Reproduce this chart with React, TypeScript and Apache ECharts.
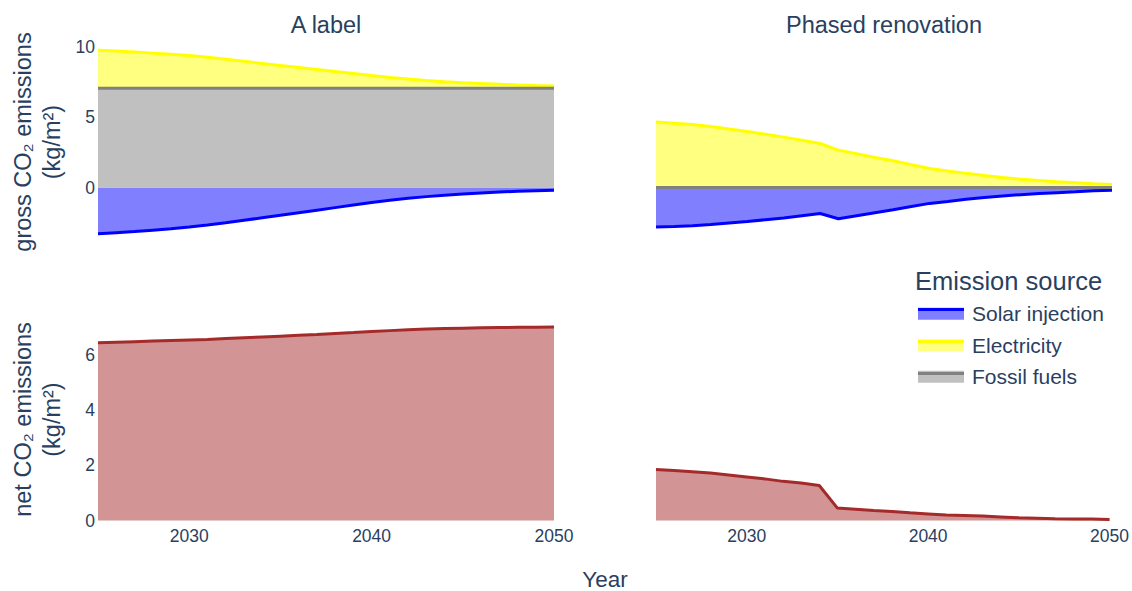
import React, { useEffect, useRef } from "react";
import * as echarts from "echarts";

// ---- data (kg/m²) ----
const years = [
  "2025", "2026", "2027", "2028", "2029", "2030", "2031", "2032", "2033", "2034", "2035", "2036", "2037",
  "2038", "2039", "2040", "2041", "2042", "2043", "2044", "2045", "2046", "2047", "2048", "2049", "2050",
];

// Panel "A label"
const solarA = [
  -3.28, -3.2, -3.12, -3.02, -2.92, -2.8, -2.66, -2.5, -2.32, -2.14, -1.96, -1.78, -1.6,
  -1.42, -1.24, -1.06, -0.9, -0.76, -0.64, -0.54, -0.46, -0.38, -0.32, -0.26, -0.22, -0.18,
];
const fossilA = [
  7.05, 7.05, 7.05, 7.05, 7.05, 7.05, 7.05, 7.05, 7.05, 7.05, 7.05, 7.05, 7.05,
  7.05, 7.05, 7.05, 7.05, 7.05, 7.05, 7.05, 7.05, 7.05, 7.05, 7.05, 7.05, 7.05,
];
const elecA = [
  2.7, 2.64, 2.57, 2.49, 2.41, 2.33, 2.2, 2.06, 1.91, 1.76, 1.61, 1.47, 1.33,
  1.19, 1.05, 0.9, 0.76, 0.65, 0.55, 0.46, 0.39, 0.33, 0.28, 0.23, 0.19, 0.16,
];
const netA = [
  6.45, 6.47, 6.49, 6.51, 6.53, 6.55, 6.57, 6.6, 6.63, 6.66, 6.69, 6.72, 6.75,
  6.79, 6.82, 6.86, 6.89, 6.92, 6.95, 6.97, 6.98, 6.99, 7.0, 7.01, 7.01, 7.02,
];

// Panel "Phased renovation"
const solarB = [
  -2.8, -2.76, -2.7, -2.62, -2.51, -2.4, -2.28, -2.16, -2.0, -1.84, -2.21, -1.99, -1.78,
  -1.57, -1.34, -1.12, -0.98, -0.83, -0.7, -0.59, -0.5, -0.42, -0.36, -0.3, -0.23, -0.18,
];
const fossilB = [
  0, 0, 0, 0, 0, 0, 0, 0, 0, 0, 0, 0, 0,
  0, 0, 0, 0, 0, 0, 0, 0, 0, 0, 0, 0, 0,
];
const elecB = [
  4.65, 4.57, 4.47, 4.34, 4.16, 3.98, 3.79, 3.58, 3.36, 3.13, 2.66, 2.4, 2.14,
  1.9, 1.62, 1.36, 1.18, 1.01, 0.86, 0.72, 0.6, 0.5, 0.42, 0.35, 0.28, 0.22,
];
const netB = [
  1.85, 1.81, 1.77, 1.72, 1.65, 1.58, 1.51, 1.42, 1.36, 1.27, 0.45, 0.41, 0.36,
  0.33, 0.28, 0.24, 0.2, 0.18, 0.16, 0.13, 0.1, 0.08, 0.06, 0.05, 0.05, 0.04,
];

const panelTitles = ["A label", "Phased renovation"];
const legendTitle = "Emission source";
const legendNames = ["Solar injection", "Electricity", "Fossil fuels"];
const xTickLabels = ["2030", "2040", "2050"];
const grossTicks = [0, 5, 10];
const netTicks = [0, 2, 4, 6];

const FONT = '"Liberation Sans", Arial, Helvetica, sans-serif';
const TXT = "#2a3f5f";

const COLORS = {
  solar: { line: "#0000ff", fill: "#8080ff" },
  elec: { line: "#ffff00", fill: "#ffff80" },
  fossil: { line: "#808080", fill: "#c0c0c0" },
  net: { line: "#a52a2a", fill: "#d29494" },
};

export default function App() {
  const ref = useRef<HTMLDivElement>(null);

  useEffect(() => {
    if (!ref.current) return;
    const chart = echarts.init(ref.current, null, { renderer: "svg" });

    const gridL = 98;
    const gridR = 656;
    const gw = 456;
    const topT = 41;
    const botT = 318.5;
    const gh = 202;

    const grids = [
      { left: gridL, top: topT, width: gw, height: gh },
      { left: gridR, top: topT, width: gw, height: gh },
      { left: gridL, top: botT, width: gw, height: gh },
      { left: gridR, top: botT, width: gw, height: gh },
    ];

    const xAxes = grids.map((_, i) => ({
      type: "category",
      gridIndex: i,
      data: years,
      boundaryGap: false,
      axisLine: { show: false },
      axisTick: { show: false },
      splitLine: { show: false },
      axisLabel: {
        show: i >= 2,
        interval: (_idx: number, val: string) => xTickLabels.includes(val),
        fontSize: 17.5,
        color: TXT,
        fontFamily: FONT,
        margin: 6,
      },
    }));

    const yName = (t: string) => ({
      name: t,
      nameLocation: "middle",
      nameRotate: 90,
      nameGap: 32,
      nameTextStyle: { fontSize: 23.5, color: TXT, fontFamily: FONT, lineHeight: 29 },
    });

    const yBase = (i: number, min: number, max: number, ticks: number[], showLabels: boolean) => ({
      type: "value",
      gridIndex: i,
      min,
      max,
      axisLine: { show: false },
      axisTick: { show: false },
      splitLine: { show: false },
      axisLabel: {
        show: showLabels,
        customValues: ticks,
        formatter: (v: number) => String(v),
        fontSize: 17.5,
        color: TXT,
        fontFamily: FONT,
        margin: 3,
      },
    });

    const yAxes = [
      { ...yBase(0, -3.93, 10.4, grossTicks, true), ...yName("gross CO₂ emissions\n(kg/m²)") },
      yBase(1, -3.93, 10.4, grossTicks, false),
      { ...yBase(2, 0, 7.33, netTicks, true), ...yName("net CO₂ emissions\n(kg/m²)") },
      yBase(3, 0, 7.33, netTicks, false),
    ];

    const area = (
      name: string,
      vals: number[],
      gi: number,
      c: { line: string; fill: string },
      stack?: string,
      z = 2
    ) => {
      const s: any = {
        type: "line",
        name,
        xAxisIndex: gi,
        yAxisIndex: gi,
        data: vals,
        showSymbol: false,
        lineStyle: { color: c.line, width: 3 },
        itemStyle: { color: c.line },
        areaStyle: { color: c.fill, opacity: 1 },
        emphasis: { disabled: true },
        z,
      };
      if (stack) s.stack = stack;
      return s;
    };

    const series = [
      area("Solar injection", solarA, 0, COLORS.solar, undefined, 2),
      area("Fossil fuels", fossilA, 0, COLORS.fossil, "posA", 3),
      area("Electricity", elecA, 0, COLORS.elec, "posA", 2),
      area("Solar injection", solarB, 1, COLORS.solar, undefined, 2),
      area("Fossil fuels", fossilB, 1, COLORS.fossil, "posB", 3),
      area("Electricity", elecB, 1, COLORS.elec, "posB", 2),
      area("Net emissions", netA, 2, COLORS.net),
      area("Net emissions", netB, 3, COLORS.net),
    ];

    const legendLeft = 918;
    const iconW = 46;
    const iconH = 12;
    const step = 32;
    const itemH = 21.5;
    const firstCenter = 314;
    const legendTop = firstCenter - itemH / 2;
    const legendLineColors = [COLORS.solar.line, COLORS.elec.line, COLORS.fossil.line];

    const graphic: any[] = [
      ...panelTitles.map((t, i) => ({
        type: "text",
        x: (i === 0 ? gridL : gridR) + gw / 2,
        y: 25,
        style: { text: t, align: "center", verticalAlign: "middle", fontSize: 23.5, fontFamily: FONT, fill: TXT },
      })),
      {
        type: "text",
        x: 605,
        y: 579,
        style: { text: "Year", align: "center", verticalAlign: "middle", fontSize: 22.5, fontFamily: FONT, fill: TXT },
      },
      {
        type: "text",
        x: 915,
        y: 281,
        style: { text: legendTitle, align: "left", verticalAlign: "middle", fontSize: 25.5, fontFamily: FONT, fill: TXT },
      },
      ...legendLineColors.map((col, i) => ({
        type: "line",
        z: 100,
        shape: {
          x1: legendLeft,
          y1: firstCenter + i * step - iconH / 2 + 1.5,
          x2: legendLeft + iconW,
          y2: firstCenter + i * step - iconH / 2 + 1.5,
        },
        style: { stroke: col, lineWidth: 3 },
      })),
    ];

    chart.setOption({
      animation: false,
      backgroundColor: "#ffffff",
      textStyle: { fontFamily: FONT },
      grid: grids,
      xAxis: xAxes,
      yAxis: yAxes,
      legend: {
        orient: "vertical",
        left: legendLeft,
        top: legendTop,
        padding: 0,
        itemWidth: iconW,
        itemHeight: iconH,
        itemGap: step - itemH,
        selectedMode: false,
        icon: "rect",
        textStyle: { fontSize: 21, color: TXT, fontFamily: FONT, padding: [0, 0, 0, 3] },
        data: [
          { name: legendNames[0], itemStyle: { color: COLORS.solar.fill, borderWidth: 0 } },
          { name: legendNames[1], itemStyle: { color: COLORS.elec.fill, borderWidth: 0 } },
          { name: legendNames[2], itemStyle: { color: COLORS.fossil.fill, borderWidth: 0 } },
        ],
      },
      graphic,
      series,
    });

    return () => chart.dispose();
  }, []);

  return (
    <div
      ref={ref}
      style={{ position: "fixed", left: 0, top: 0, width: 1132, height: 591, background: "#fff" }}
    />
  );
}
